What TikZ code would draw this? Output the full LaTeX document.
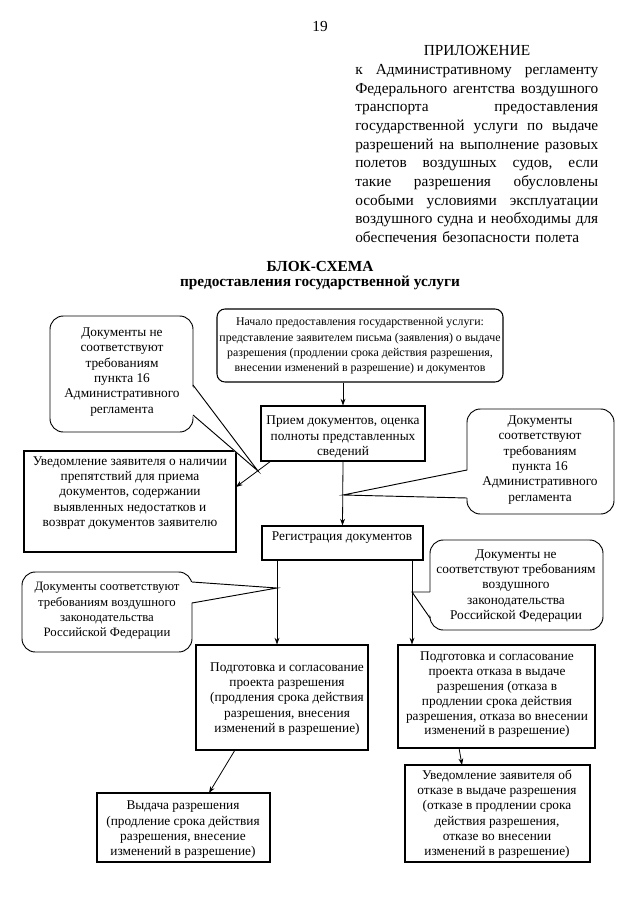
\documentclass[tikz,border=0pt]{standalone}
\usepackage{fontspec}
\setmainfont{Liberation Serif}
\usetikzlibrary{arrows.meta,fit,calc}
\newcommand\bxfont{\fontsize{10}{11.5}\selectfont}
\newcommand\stfont{\fontsize{8.9}{11.6}\selectfont}
\newcommand\hdfont{\fontsize{11.5}{14}\selectfont}
\newcommand\ttlfont{\fontsize{11.5}{13}\selectfont\bfseries}
\newcommand\jline[1]{\makebox[182.25pt][l]{#1}}
\begin{document}
\begin{tikzpicture}[x=0.75pt,y=-0.75pt,
  box/.style={draw, line width=0.8pt, inner sep=0pt},
  callout/.style={draw, line width=0.7pt, inner sep=0pt, rounded corners=10pt},
  startbox/.style={draw, line width=0.8pt, inner sep=0pt, rounded corners=6pt},
  txt/.style={align=center, inner sep=0pt, font=\bxfont},
  arr/.style={-{Stealth[length=5pt,width=3.6pt]}, line width=0.6pt},
  tail/.style={line width=0.7pt}]
\useasboundingbox[fill=white] (0,0) rectangle (640,905);

% header
\node[font=\hdfont] (pg) at (320,27) {19};
\node[font=\hdfont] (app) at (477,51) {ПРИЛОЖЕНИЕ};
\node[anchor=north west, inner sep=0pt, text width=182.25pt, font=\hdfont, align=left] (para) at (355,64) {%
\jline{к\hfill Административному\hfill регламенту}\\
\jline{Федерального\hfill агентства\hfill воздушного}\\
\jline{транспорта\hfill предоставления}\\
\jline{государственной\hfill услуги\hfill по\hfill выдаче}\\
\jline{разрешений\hfill на\hfill выполнение\hfill разовых}\\
\jline{полетов\hfill воздушных\hfill судов,\hfill если}\\
\jline{такие\hfill разрешения\hfill обусловлены}\\
\jline{особыми\hfill условиями\hfill эксплуатации}\\
\jline{воздушного\hfill судна\hfill и\hfill необходимы\hfill для}\\
обеспечения безопасности полета};

\node[font=\ttlfont] (t1) at (320,266) {БЛОК-СХЕМА};
\node[font=\ttlfont] (t2) at (320,283) {предоставления государственной услуги};

% boxes
\node[callout, fit={(50,316) (193,432)}] (L1) {};
\node[startbox, fit={(217,309) (503,382)}] (start) {};
\node[box, fit={(261,406) (425,461)}] (priem) {};
\node[box, fit={(24,451) (236,552)}] (notL) {};
\node[callout, fit={(467,409) (614,514)}] (R1) {};
\node[box, fit={(262,526) (423,560)}] (reg) {};
\node[callout, fit={(22,572) (192,652)}] (L2) {};
\node[callout, fit={(430,540) (603,630)}] (R2) {};
\node[box, fit={(196,645) (368,750)}] (podgL) {};
\node[box, fit={(398,645) (595,748)}] (podgR) {};
\node[box, fit={(405,765) (590,862)}] (notR) {};
\node[box, fit={(97,793) (270,862)}] (vyd) {};

% texts
\node[txt] (L1t) at (122,372) {Документы не\\соответствуют\\требованиям\\пункта 16\\Административного\\регламента};
\node[txt, font=\stfont] (startt) at (360,346) {Начало предоставления государственной услуги:\\представление заявителем письма (заявления) о выдаче\\разрешения (продлении срока действия разрешения,\\внесении изменений в разрешение) и документов};
\node[txt] (priemt) at (343,437) {Прием документов, оценка\\полноты представленных\\сведений};
\node[txt] (notLt) at (130,493) {Уведомление заявителя о наличии\\препятствий для приема\\документов, содержании\\выявленных недостатков и\\возврат документов заявителю};
\node[txt] (R1t) at (540,460) {Документы\\соответствуют\\требованиям\\пункта 16\\Административного\\регламента};
\node[txt] (regt) at (342,538) {Регистрация документов};
\node[txt, font=\fontsize{9.6}{11.5}\selectfont] (L2t) at (107,611) {Документы соответствуют\\требованиям воздушного\\законодательства\\Российской Федерации};
\node[txt] (R2t) at (516,586) {Документы не\\соответствуют требованиям\\воздушного\\законодательства\\Российской Федерации};
\node[txt] (podgLt) at (287,699) {Подготовка и согласование\\проекта разрешения\\(продления срока действия\\разрешения, внесения\\изменений в разрешение)};
\node[txt, font=\fontsize{10}{11.1}\selectfont] (podgRt) at (497,695) {Подготовка и согласование\\проекта отказа в выдаче\\разрешения (отказа в\\продлении срока действия\\разрешения, отказа во внесении\\изменений в разрешение)};
\node[txt] (notRt) at (497,814) {Уведомление заявителя об\\отказе в выдаче разрешения\\(отказе в продлении срока\\действия разрешения,\\отказе во внесении\\изменений в разрешение)};
\node[txt] (vydt) at (183,830) {Выдача разрешения\\(продление срока действия\\разрешения, внесение\\изменений в разрешение)};

% connectors
\draw[arr] (priem.north |- start.south) -- (priem.north);
\draw[arr] (priem.south) -- (reg.north);
\coordinate (j1) at (343,495);
\coordinate (aL1) at (271,461);
\coordinate (aL2) at (236,487);
\draw[arr] (aL1) -- (aL2);
\coordinate (rL) at (277,560);
\draw[arr] (rL) -- (rL |- podgL.north);
\coordinate (rR) at (412,560);
\draw[arr] (rR) -- (rR |- podgR.north);
\coordinate (b1) at (459,748);
\coordinate (b2) at (462,765);
\draw[arr] (b1) -- (b2);
\coordinate (c1) at (235,750);
\coordinate (c2) at (209,793);
\draw[arr] (c1) -- (c2);

% callout tails
\coordinate (L1a) at (193,385); \coordinate (L1b) at (193,415); \coordinate (L1tip) at (258,471);
\fill[white] (191,385) -- (L1tip) -- (191,415) -- cycle;
\draw[tail] (L1a) -- (L1tip) -- (L1b);
\coordinate (R1a) at (467,470); \coordinate (R1b) at (467,498);
\fill[white] (469,470) -- (j1) -- (469,498) -- cycle;
\draw[tail] (R1a) -- (j1) -- (R1b);
\coordinate (L2a) at (192,582); \coordinate (L2b) at (192,603); \coordinate (L2tip) at (277,588);
\fill[white] (190,582) -- (L2tip) -- (190,603) -- cycle;
\draw[tail] (L2a) -- (L2tip) -- (L2b);
\coordinate (R2a) at (430,592); \coordinate (R2b) at (430,618); \coordinate (R2tip) at (412,592);
\fill[white] (432,592) -- (R2tip) -- (432,618) -- cycle;
\draw[tail] (R2a) -- (R2tip) -- (R2b);
\end{tikzpicture}
\end{document}
